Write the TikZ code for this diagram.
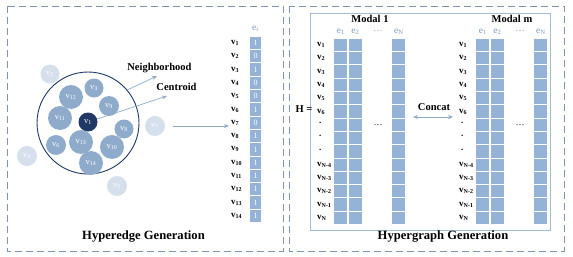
\documentclass[tikz,border=0pt]{standalone}
\usepackage{fontspec}
\setmainfont{Liberation Serif}
\usetikzlibrary{arrows.meta,positioning,calc}
\definecolor{FrameGray}{HTML}{8096AE}
\definecolor{CellBlue}{HTML}{95B3D7}
\definecolor{NodeBlue}{HTML}{8EABCC}
\definecolor{FadeBlue}{HTML}{D5E0EC}
\definecolor{DeepNavy}{HTML}{1F3864}
\definecolor{LineBlue}{HTML}{8FAACB}
\definecolor{HeadBlue}{HTML}{7C98BC}

\tikzset{
  frame/.style={draw=FrameGray,line width=1pt,dash pattern=on 7pt off 4pt},
  vnode/.style={circle,fill=NodeBlue,text=white,inner sep=0pt,font=\fontsize{8.5}{9}\selectfont},
  fadenode/.style={vnode,fill=FadeBlue},
  cell/.style={fill=CellBlue,minimum width=12.5pt,minimum height=12.3pt,inner sep=0pt,text=white,font=\fontsize{8}{8}\selectfont},
  rowlab/.style={anchor=west,inner sep=0pt,font=\bfseries\fontsize{9}{9}\selectfont},
  headlab/.style={text=HeadBlue,inner sep=0pt,font=\fontsize{9.5}{10}\selectfont},
  title/.style={font=\bfseries\fontsize{12.6}{13}\selectfont},
  tag/.style={font=\bfseries\fontsize{10.5}{11}\selectfont},
  arr/.style={LineBlue,line width=0.7pt,-{Stealth[length=5pt,width=4pt]}},
}

\begin{document}
\begin{tikzpicture}[x=1pt,y=-1pt]
  \useasboundingbox (0,0) rectangle (573,257);
  \draw[frame] (7,6) rectangle (283,251);
  \draw[frame] (289,6) rectangle (564,251);

  % hyperedge around the centroid
  \node[circle,draw=DeepNavy,line width=0.9pt,minimum size=102pt] (hedge) at (88,123) {};
  \node[vnode,fill=DeepNavy,minimum size=19pt] (v1) at (88,122) {v\textsubscript{1}};
  \node[vnode,minimum size=24pt] (v12) at (71,97) {v\textsubscript{12}};
  \node[vnode,minimum size=19pt] (v3) at (94,88) {v\textsubscript{3}};
  \node[vnode,minimum size=20pt] (v9) at (109,106) {v\textsubscript{9}};
  \node[vnode,minimum size=24pt] (v11) at (60,118) {v\textsubscript{11}};
  \node[vnode,minimum size=19pt] (v8) at (124,129) {v\textsubscript{8}};
  \node[vnode,minimum size=20pt] (v6) at (56,145) {v\textsubscript{6}};
  \node[vnode,minimum size=24pt] (v13) at (81,142) {v\textsubscript{13}};
  \node[vnode,minimum size=24pt] (v10) at (112,147) {v\textsubscript{10}};
  \node[vnode,minimum size=24pt] (v14) at (91,163) {v\textsubscript{14}};
  \node[fadenode,minimum size=19pt] (v2) at (50,74) {v\textsubscript{2}};
  \node[fadenode,minimum size=20pt] (v4) at (27,156) {v\textsubscript{4}};
  \node[fadenode,minimum size=20pt] (v5) at (117,186) {v\textsubscript{5}};
  \node[fadenode,minimum size=20pt] (v7) at (155,126) {v\textsubscript{7}};

  \coordinate (nbend) at (157,76);
  \coordinate (cenend) at (167,96);
  \coordinate (vtip) at (229,126);
  \draw[arr] (hedge.40) -- (nbend);
  \draw[arr] (v1) -- (cenend);
  \draw[arr] ([xshift=8pt]v7.east) -- (vtip);
  \node[tag] (nblab) at (159.5,68) {Neighborhood};
  \node[tag] (cenlab) at (176.5,87) {Centroid};

  % incidence column
  \node[headlab] (ei) at (255.5,29) {e\textsubscript{i}};
  \foreach \val [count=\i] in {1,0,1,0,0,1,0,1,1,1,1,1,1,1}{
    \node[cell,minimum width=11.5pt] (c\i) at (255.5,{29.7+13.3*\i}) {\val};
    \node[rowlab] (r\i) at (231,{29.7+13.3*\i}) {v\textsubscript{\i}};
  }
  \node[title] (ht) at (143.5,237) {Hyperedge Generation};

  % incidence matrix
  \draw[LineBlue!80,line width=0.8pt] (310,13) rectangle (550,230);
  \node[tag] (heq) at (304,109) {H =};
  \foreach \p/\ox/\name in {a/0/Modal 1,b/142/Modal m}{
    \node[tag] (mod\p) at ({370+\ox},19) {\name};
    \node[headlab] (h\p1) at ({341+\ox},32) {e\textsubscript{1}};
    \node[headlab] (h\p2) at ({355.5+\ox},32) {e\textsubscript{2}};
    \node[headlab] (h\p3) at ({378+\ox},31) {\dots};
    \node[headlab] (h\p4) at ({399+\ox},32) {e\textsubscript{N}};
    \foreach \r in {1,...,14}{
      \node[cell] (m\p\r a) at ({340.5+\ox},{45+13.3*(\r-1)}) {};
      \node[cell] (m\p\r b) at ({355.5+\ox},{45+13.3*(\r-1)}) {};
      \node[cell] (m\p\r c) at ({398.5+\ox},{45+13.3*(\r-1)}) {};
    }
    \foreach \r/\lab in {1/1,2/2,3/3,4/4,5/5,6/6,10/N-4,11/N-3,12/N-2,13/N-1,14/N}{
      \node[rowlab] (l\p\r) at ({317+\ox},{45+13.3*(\r-1)}) {v\textsubscript{\lab}};
    }
    \foreach \r in {7,8,9}{
      \node[rowlab] (l\p\r) at ({319+\ox},{43+13.3*(\r-1)}) {.};
    }
    \node[font=\fontsize{9}{9}\selectfont] (dot\p) at ({378+\ox},125) {\dots};
  }
  \coordinate (catl) at (413,117);
  \coordinate (catr) at (453,117);
  \draw[LineBlue,line width=0.7pt,{Stealth[length=5pt,width=4pt]}-{Stealth[length=5pt,width=4pt]}] (catl) -- (catr);
  \node[tag] (catlab) at (434,107) {Concat};
  \node[title] (gt) at (443,237) {Hypergraph Generation};
\end{tikzpicture}
\end{document}
